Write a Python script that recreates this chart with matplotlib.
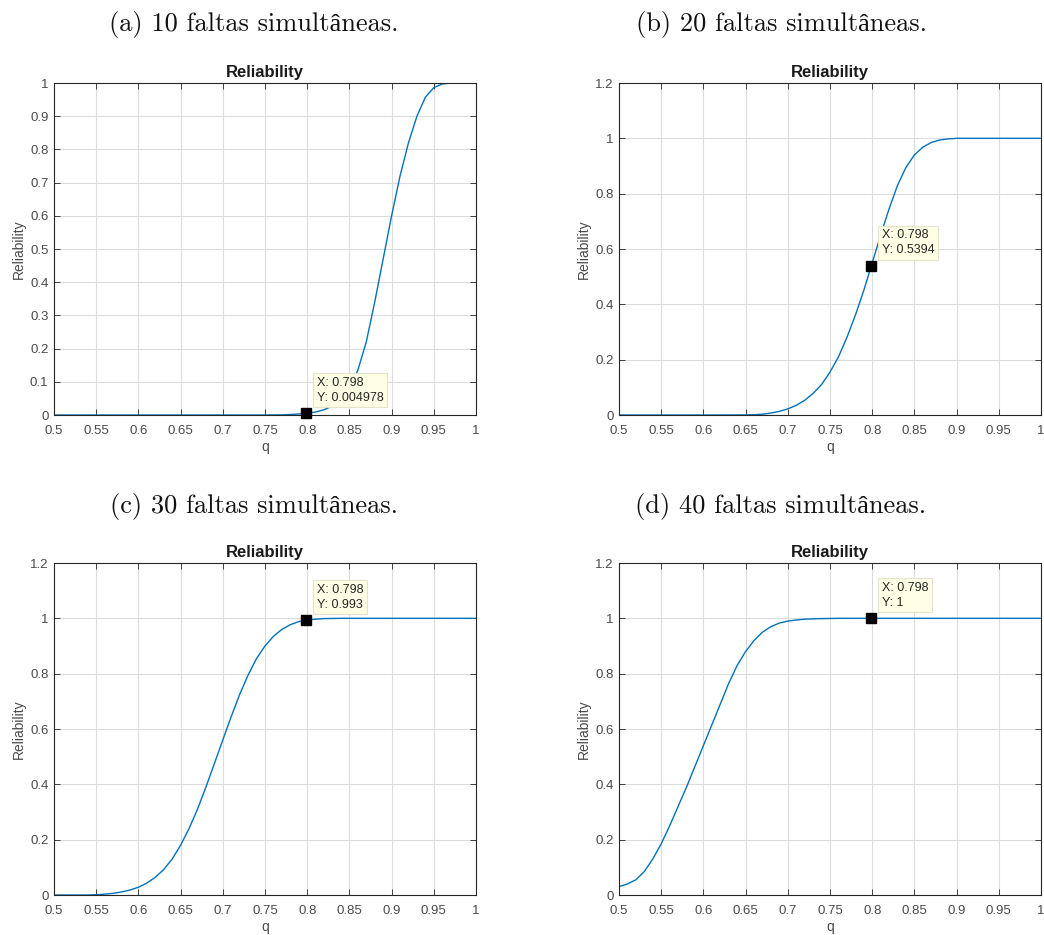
import matplotlib
matplotlib.use("Agg")
import matplotlib.pyplot as plt

# ---------------- data ----------------
q_a = [0.50, 0.60, 0.70, 0.75, 0.77, 0.78, 0.79, 0.80, 0.81, 0.82, 0.83, 0.84, 0.85,
       0.86, 0.87, 0.88, 0.89, 0.90, 0.91, 0.92, 0.93, 0.94, 0.95, 0.96, 0.97, 1.00]
r_a = [0.0, 0.0, 0.0, 0.0, 0.0005, 0.0015, 0.003, 0.005, 0.009, 0.016, 0.027, 0.045, 0.08,
       0.135, 0.22, 0.34, 0.47, 0.60, 0.72, 0.82, 0.90, 0.957, 0.986, 0.997, 1.0, 1.0]

q_b = [0.50, 0.60, 0.65, 0.66, 0.67, 0.68, 0.69, 0.70, 0.71, 0.72, 0.73, 0.74, 0.75,
       0.76, 0.77, 0.78, 0.79, 0.80, 0.81, 0.82, 0.83, 0.84, 0.85, 0.86, 0.87, 0.88,
       0.89, 0.90, 1.00]
r_b = [0.0, 0.0, 0.0003, 0.001, 0.003, 0.007, 0.013, 0.022, 0.035, 0.053, 0.078, 0.11, 0.155,
       0.21, 0.28, 0.36, 0.45, 0.55, 0.65, 0.745, 0.83, 0.895, 0.94, 0.968, 0.985, 0.994,
       0.998, 1.0, 1.0]

q_c = [0.50, 0.54, 0.55, 0.56, 0.57, 0.58, 0.59, 0.60, 0.61, 0.62, 0.63, 0.64, 0.65,
       0.66, 0.67, 0.68, 0.69, 0.70, 0.71, 0.72, 0.73, 0.74, 0.75, 0.76, 0.77, 0.78,
       0.79, 0.80, 0.81, 0.82, 0.84, 1.00]
r_c = [0.0, 0.0, 0.001, 0.003, 0.006, 0.011, 0.018, 0.028, 0.043, 0.064, 0.092, 0.13, 0.18,
       0.24, 0.31, 0.39, 0.475, 0.56, 0.645, 0.725, 0.795, 0.855, 0.90, 0.935, 0.96, 0.977,
       0.988, 0.994, 0.997, 0.999, 1.0, 1.0]

q_d = [0.50, 0.51, 0.52, 0.53, 0.54, 0.55, 0.56, 0.57, 0.58, 0.59, 0.60, 0.61, 0.62,
       0.63, 0.64, 0.65, 0.66, 0.67, 0.68, 0.69, 0.70, 0.71, 0.72, 0.74, 0.76, 1.00]
r_d = [0.03, 0.04, 0.055, 0.085, 0.13, 0.185, 0.25, 0.32, 0.39, 0.465, 0.54, 0.615, 0.69,
       0.765, 0.83, 0.88, 0.92, 0.95, 0.97, 0.983, 0.99, 0.994, 0.997, 0.999, 1.0, 1.0]

tip_x = [0.798, 0.798, 0.798, 0.798]
tip_y = [0.004978, 0.5394, 0.993, 1.0]
tip_labels = [["X: 0.798", "Y: 0.004978"], ["X: 0.798", "Y: 0.5394"],
              ["X: 0.798", "Y: 0.993"], ["X: 0.798", "Y: 1"]]

captions = ["(a) 10 faltas simultâneas.", "(b) 20 faltas simultâneas.",
            "(c) 30 faltas simultâneas.", "(d) 40 faltas simultâneas."]

xticks = [0.5, 0.55, 0.6, 0.65, 0.7, 0.75, 0.8, 0.85, 0.9, 0.95, 1.0]
xtick_labels = ["0.5", "0.55", "0.6", "0.65", "0.7", "0.75", "0.8", "0.85", "0.9", "0.95", "1"]
yticks_a = [0, 0.1, 0.2, 0.3, 0.4, 0.5, 0.6, 0.7, 0.8, 0.9, 1.0]
ytick_labels_a = ["0", "0.1", "0.2", "0.3", "0.4", "0.5", "0.6", "0.7", "0.8", "0.9", "1"]
yticks_b = [0, 0.2, 0.4, 0.6, 0.8, 1.0, 1.2]
ytick_labels_b = ["0", "0.2", "0.4", "0.6", "0.8", "1", "1.2"]

# ---------------- figure ----------------
W, H = 1044, 935
fig = plt.figure(figsize=(W / 100, H / 100), dpi=100)

sans = ["Liberation Sans", "DejaVu Sans"]
serif = ["cmr10", "Liberation Serif", "DejaVu Serif"]
axcol = "#262626"
line_col = "#0072BD"

# axes boxes in pixels: left, top, right, bottom
boxes = [(54, 83, 476, 415), (619, 83, 1041, 415),
         (54, 563, 476, 895), (619, 563, 1041, 895)]
cap_pos = [(254, 25), (781, 25), (254, 506), (781, 506)]

series = [(q_a, r_a), (q_b, r_b), (q_c, r_c), (q_d, r_d)]

for i, ((l, t, r, b), (qx, ry)) in enumerate(zip(boxes, series)):
    ax = fig.add_axes([l / W, 1 - b / H, (r - l) / W, (b - t) / H])
    ax.plot(qx, ry, color=line_col, lw=1.0)
    ax.set_xlim(0.5, 1.0)
    if i == 0:
        ax.set_ylim(0, 1)
        ax.set_yticks(yticks_a)
        ax.set_yticklabels(ytick_labels_a)
    else:
        ax.set_ylim(0, 1.2)
        ax.set_yticks(yticks_b)
        ax.set_yticklabels(ytick_labels_b)
    ax.set_xticks(xticks)
    ax.set_xticklabels(xtick_labels)
    ax.grid(True, color="#dcdcdc", lw=0.8)
    ax.set_axisbelow(True)
    ax.tick_params(direction="in", length=4, width=0.6, colors=axcol,
                   top=True, right=True, labelsize=9.5)
    ax.tick_params(axis="x", pad=7)
    ax.tick_params(axis="y", pad=4)
    for lab in ax.get_xticklabels() + ax.get_yticklabels():
        lab.set_family(sans)
        lab.set_color("#4a4a4a")
    for sp in ax.spines.values():
        sp.set_color(axcol)
        sp.set_linewidth(0.8)
    ax.set_title("Reliability", fontsize=12, fontweight="bold", family=sans,
                 color="#1a1a1a", pad=4)
    ax.set_ylabel("Reliability", fontsize=10, family=sans, color="#4a4a4a", labelpad=3)
    ax.set_xlabel("q", fontsize=10, family=sans, color="#4a4a4a", labelpad=2)

    # data tip
    ax.plot([tip_x[i]], [tip_y[i]], marker="s", color="black", ms=7, ls="none",
            clip_on=False, zorder=5)
    ax.annotate("\n".join(tip_labels[i]), xy=(tip_x[i], tip_y[i]),
                xytext=(8, 7), textcoords="offset points", ha="left", va="bottom",
                fontsize=9, family=sans, color="#262626", linespacing=1.3,
                bbox=dict(boxstyle="square,pad=0.3", fc="#ffffe6", ec="#e4e4c8", lw=0.8),
                zorder=6, annotation_clip=False)

    cx, cy = cap_pos[i]
    fig.text(cx / W, 1 - cy / H, captions[i], ha="center", va="center",
             fontsize=19, family=serif, color="#111111")

fig.savefig("out.png", dpi=100, facecolor="white")
